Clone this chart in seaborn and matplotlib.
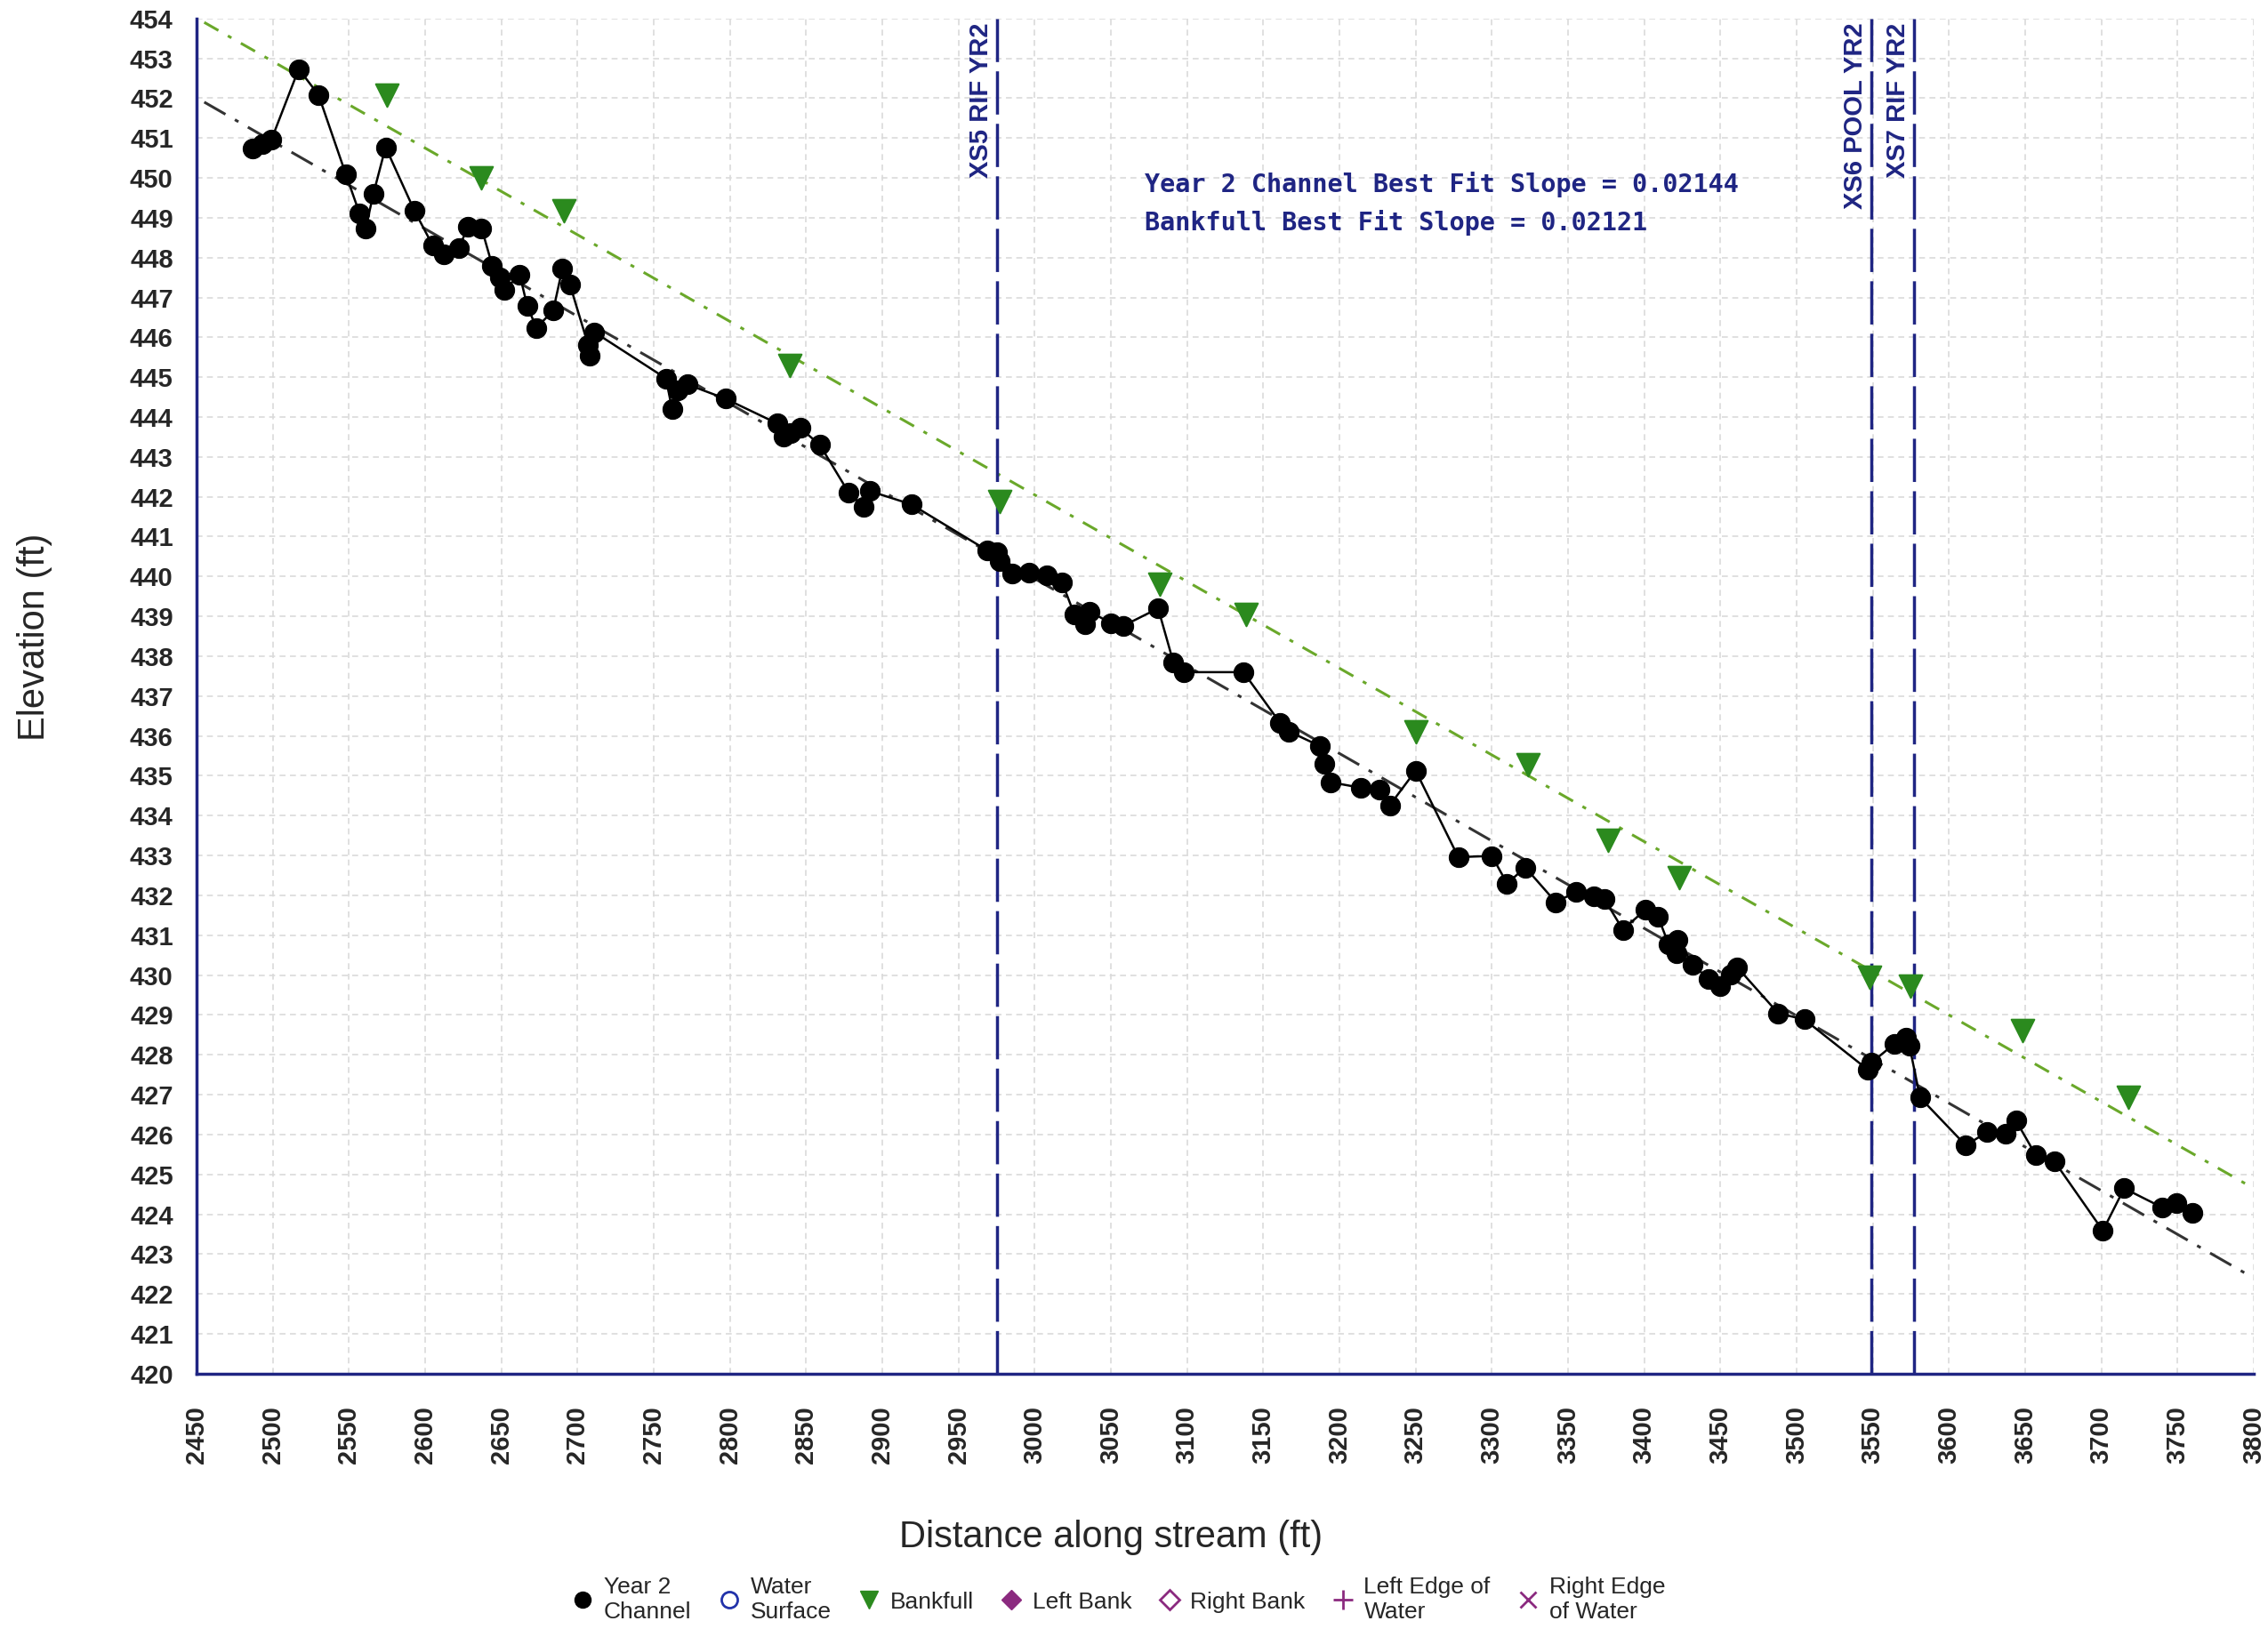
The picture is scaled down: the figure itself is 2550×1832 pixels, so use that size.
import numpy as np
import seaborn as sns
import matplotlib.pyplot as plt
from matplotlib.ticker import MultipleLocator
from matplotlib.lines import Line2D

sns.set_style('white')
plt.rcParams['font.family'] = ['Liberation Sans', 'DejaVu Sans']

navy = '#1f2583'
green = '#2b8a1e'
purple = '#8b2a7f'

# Year 2 channel thalweg profile
chan_x = [2487, 2493, 2499, 2517, 2530, 2548, 2557, 2561, 2566, 2574, 2593, 2605, 2612, 2622, 2628,
          2637, 2644, 2649, 2652, 2662, 2667, 2673, 2684, 2690, 2695, 2707, 2708, 2711, 2758, 2762,
          2766, 2772, 2797, 2831, 2835, 2840, 2846, 2859, 2878, 2888, 2892, 2919, 2969, 2975, 2977,
          2985, 2996, 3008, 3018, 3026, 3033, 3036, 3050, 3058, 3081, 3091, 3098, 3137, 3161, 3167,
          3187, 3190, 3194, 3214, 3226, 3233, 3250, 3278, 3300, 3310, 3322, 3342, 3355, 3367, 3374,
          3386, 3401, 3409, 3416, 3421, 3422, 3432, 3442, 3450, 3457, 3461, 3488, 3505, 3547, 3549,
          3564, 3572, 3574, 3581, 3611, 3625, 3637, 3644, 3657, 3669, 3701, 3715, 3740, 3749, 3760]
chan_y = [450.73, 450.84, 450.95, 452.73, 452.08, 450.08, 449.10, 448.74, 449.60, 450.77, 449.17, 448.30,
          448.09, 448.23, 448.77, 448.74, 447.80, 447.50, 447.18, 447.58, 446.78, 446.24, 446.67, 447.72,
          447.32, 445.80, 445.55, 446.13, 444.97, 444.20, 444.67, 444.82, 444.46, 443.84, 443.51, 443.59,
          443.73, 443.30, 442.10, 441.74, 442.14, 441.81, 440.65, 440.61, 440.39, 440.07, 440.10, 440.03,
          439.85, 439.05, 438.80, 439.12, 438.83, 438.76, 439.20, 437.85, 437.60, 437.60, 436.33, 436.11,
          435.75, 435.31, 434.84, 434.70, 434.66, 434.26, 435.13, 432.96, 432.99, 432.30, 432.70, 431.83,
          432.08, 431.98, 431.90, 431.14, 431.65, 431.47, 430.78, 430.56, 430.88, 430.27, 429.90, 429.73,
          430.02, 430.20, 429.04, 428.89, 427.62, 427.80, 428.27, 428.42, 428.24, 426.93, 425.73, 426.06,
          426.03, 426.35, 425.48, 425.34, 423.59, 424.65, 424.17, 424.28, 424.03]

# Bankfull indicators
bkf_x = [2575, 2637, 2691, 2839, 2977, 3082, 3139, 3250, 3324, 3376, 3423, 3548, 3575, 3648, 3718]
bkf_y = [452.08, 450.00, 449.17, 445.29, 441.88, 439.81, 439.05, 436.11, 435.28, 433.39, 432.45,
         429.94, 429.73, 428.60, 426.93]

# best fit line end points
fit_x = [2455, 3800]
chan_fit_y = [451.9, 422.4]
bkf_fit_y = [453.9, 424.65]

# cross section stations
xs_x = [2975, 3549, 3577]
xs_labels = ['XS5 RIF YR2', 'XS6 POOL YR2', 'XS7 RIF YR2']

slope_text = ['Year 2 Channel Best Fit Slope = 0.02144', 'Bankfull Best Fit Slope = 0.02121']

fig = plt.figure(figsize=(25.5, 18.32), dpi=100)
ax = fig.add_axes([0.0867, 0.1567, 0.907, 0.832])

ax.plot(fit_x, bkf_fit_y, color='#6aa82a', lw=2.2, dashes=(6, 4, 1.5, 4))
ax.plot(fit_x, chan_fit_y, color='#333333', lw=2.2, dashes=(9, 4, 1.5, 4))

for xv, lab in zip(xs_x, xs_labels):
    ax.plot([xv, xv], [420, 454], color=navy, lw=2.5, dashes=(14, 3))
    ax.text(xv - 2, 453.9, lab, rotation=90, ha='right', va='top', color=navy,
            fontsize=21, fontweight='bold')

sns.lineplot(x=chan_x, y=chan_y, ax=ax, color='black', lw=1.8, sort=False, estimator=None,
             marker='o', markersize=16, markeredgecolor='black')
sns.scatterplot(x=bkf_x, y=bkf_y, ax=ax, marker='v', color=green, s=340, edgecolor=green, zorder=5)

for i, t in enumerate(slope_text):
    ax.text(3072, 449.83 - i * 0.95, t, color=navy, fontsize=20.5, fontweight='bold',
            family='DejaVu Sans Mono', va='center')

ax.set_xlim(2450, 3800)
ax.set_ylim(420, 454)
ax.xaxis.set_major_locator(MultipleLocator(50))
ax.xaxis.set_minor_locator(MultipleLocator(10))
ax.yaxis.set_major_locator(MultipleLocator(1))
ax.yaxis.set_minor_locator(MultipleLocator(0.2))
ax.grid(True, which='major', color='#dadada', ls=(0, (4, 3)), lw=1.2)
for s in ['top', 'right']:
    ax.spines[s].set_visible(False)
for s in ['left', 'bottom']:
    ax.spines[s].set_color(navy)
    ax.spines[s].set_linewidth(2.5)
ax.tick_params(axis='y', which='major', direction='out', length=17, width=2.5, color=navy,
               labelsize=21, pad=2)
ax.tick_params(axis='y', which='minor', direction='out', length=8, width=2.5, color=navy)
ax.tick_params(axis='x', which='major', direction='out', length=21, width=2, color=navy,
               labelsize=21, pad=5, labelrotation=90)
ax.tick_params(axis='x', which='minor', direction='out', length=11, width=2, color=navy)
for lab in ax.get_xticklabels() + ax.get_yticklabels():
    lab.set_fontweight('bold')

fig.text(0.0153, 0.609, 'Elevation (ft)', rotation=90, ha='center', va='center', fontsize=30)
fig.text(0.49, 0.056, 'Distance along stream (ft)', ha='center', va='center', fontsize=30)

handles = [
    Line2D([], [], ls='none', marker='o', color='black', markersize=13),
    Line2D([], [], ls='none', marker='o', markerfacecolor='none', markeredgecolor='#2233aa', markersize=13, mew=2),
    Line2D([], [], ls='none', marker='v', color=green, markersize=15),
    Line2D([], [], ls='none', marker='D', color=purple, markersize=11),
    Line2D([], [], ls='none', marker='D', markerfacecolor='none', markeredgecolor=purple, markersize=11, mew=2),
    Line2D([], [], ls='none', marker='+', color=purple, markersize=16, mew=2),
    Line2D([], [], ls='none', marker='x', color=purple, markersize=13, mew=2),
]
labels = ['Year 2\nChannel', 'Water\nSurface', 'Bankfull', 'Left Bank', 'Right Bank',
          'Left Edge of\nWater', 'Right Edge\nof Water']
fig.legend(handles, labels, loc='upper center', bbox_to_anchor=(0.4925, 0.045), ncol=7,
           frameon=False, fontsize=19, handletextpad=0.3, columnspacing=1.0, handlelength=1.2)

fig.savefig('out.png', dpi=100)
